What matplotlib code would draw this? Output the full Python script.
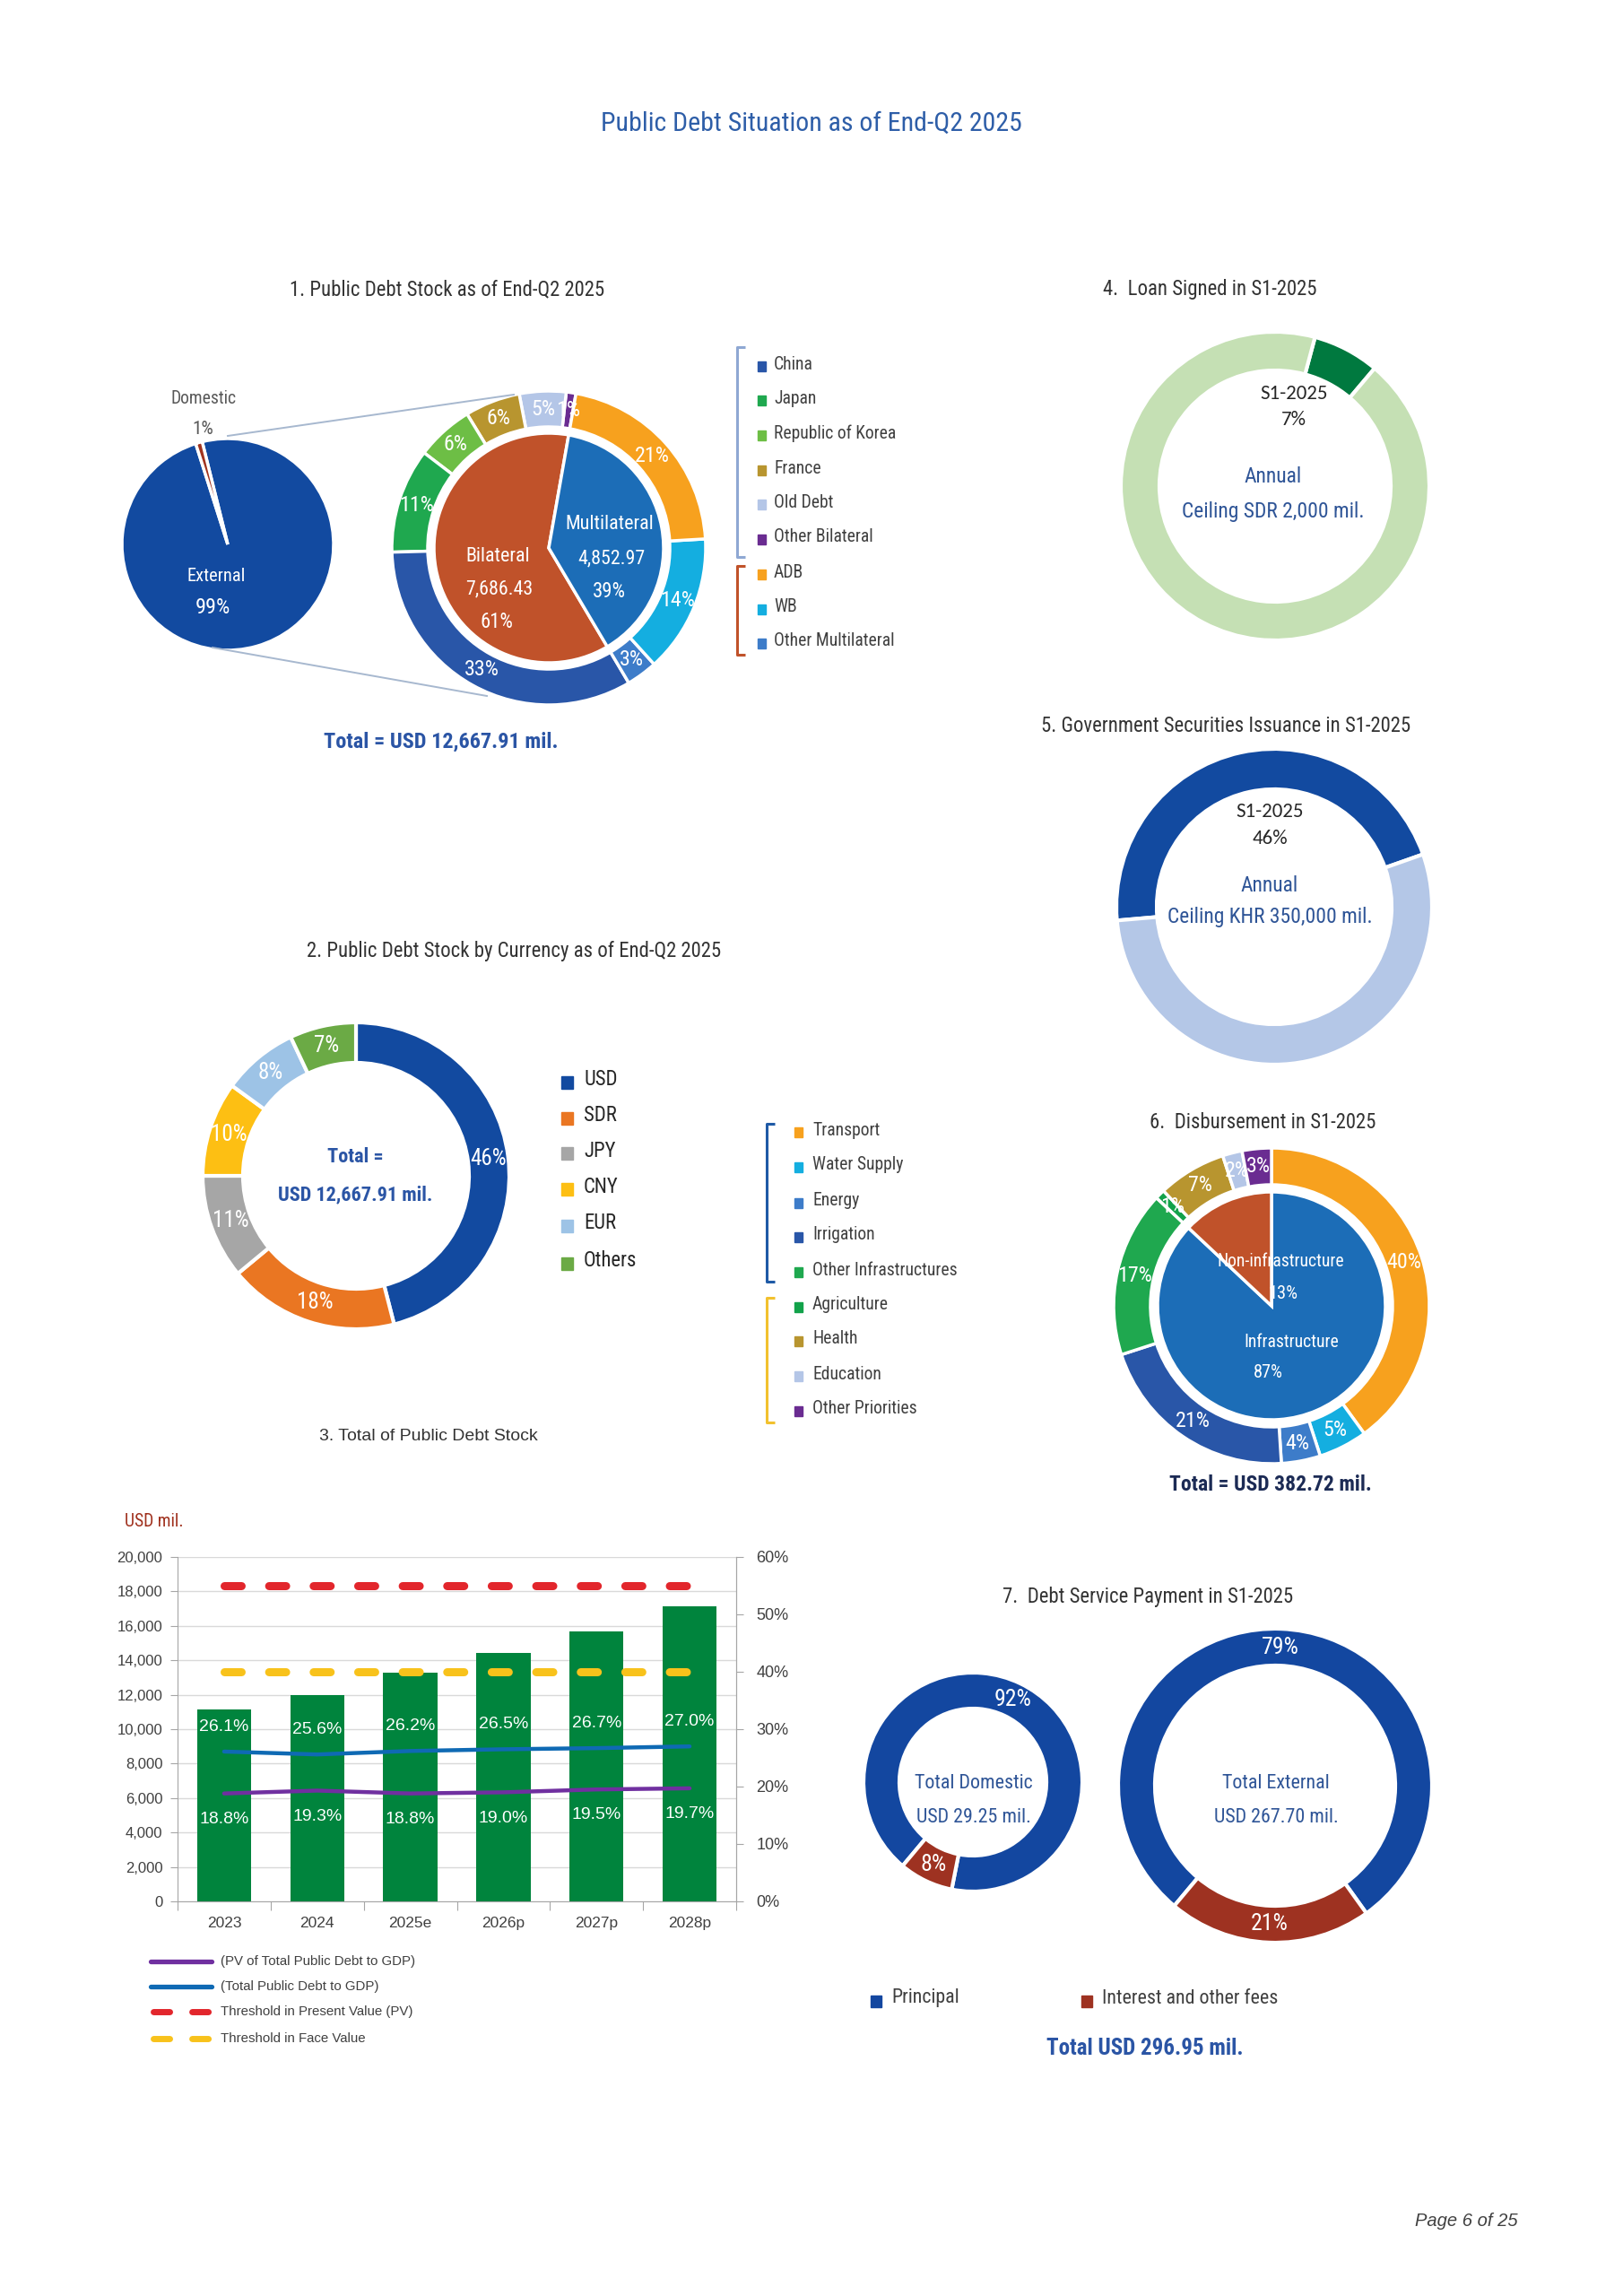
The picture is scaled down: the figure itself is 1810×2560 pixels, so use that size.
import matplotlib
matplotlib.use('Agg')
import matplotlib.pyplot as plt
from matplotlib import font_manager
from matplotlib.patches import Rectangle
import numpy as np

W, H = 1810, 2560

names = {f.name for f in font_manager.fontManager.ttflist}
NARROW, NS, NSB = 'Liberation Sans', 0.95, 0.88
for cand in ['Liberation Sans Narrow', 'Roboto Condensed', 'Arial Narrow']:
    if cand in names:
        NARROW, NS, NSB = cand, 1.13, 1.0
        break
REG = 'Liberation Sans'
CAL = 'Carlito' if 'Carlito' in names else 'Lato'

# ---------------- data ----------------
# 1. Public debt stock (USD mil.)
ext_dom_labels = ['External', 'Domestic']
ext_dom_values = [12539.40, 128.51]
inner1_labels = ['Bilateral', 'Multilateral']
inner1_values = [7686.43, 4852.97]
partner_labels = ['China', 'Japan', 'Republic of Korea', 'France', 'Old Debt',
                  'Other Bilateral', 'ADB', 'WB', 'Other Multilateral']
partner_pct = [33.1, 10.8, 5.9, 5.7, 4.8, 1.0, 21.3, 14.2, 3.2]
partner_colors = ['#2956A8', '#1FA84F', '#6DBE45', '#B8952F', '#B4C6E7',
                  '#6A2C91', '#F7A11E', '#14AEE0', '#3D7CC9']

# 2. By currency
currency_labels = ['USD', 'SDR', 'JPY', 'CNY', 'EUR', 'Others']
currency_pct = [46, 18, 11, 10, 8, 7]
currency_colors = ['#124AA0', '#EA7622', '#A6A6A6', '#FDBF13', '#9DC3E6', '#6BAA45']

# 3. Total public debt stock
years = ['2023', '2024', '2025e', '2026p', '2027p', '2028p']
debt_stock = [11150, 11980, 13260, 14420, 15660, 17140]
debt_to_gdp = [26.1, 25.6, 26.2, 26.5, 26.7, 27.0]
pv_to_gdp = [18.8, 19.3, 18.8, 19.0, 19.5, 19.7]
threshold_pv = [55, 55, 55, 55, 55, 55]
threshold_face = [40, 40, 40, 40, 40, 40]

# 4. Loan signed (share of annual ceiling)
loan_labels = ['S1-2025', 'Remaining']
loan_pct = [7, 93]
# 5. Government securities issuance
gsi_labels = ['S1-2025', 'Remaining']
gsi_pct = [46, 54]

# 6. Disbursement
sector_labels = ['Transport', 'Water Supply', 'Energy', 'Irrigation', 'Other Infrastructures',
                 'Agriculture', 'Health', 'Education', 'Other Priorities']
sector_pct = [40, 5, 4, 21, 17, 1, 7, 2, 3]
sector_colors = ['#F7A11E', '#14AEE0', '#3D7CC9', '#2956A8', '#1FA84F',
                 '#12A24A', '#B8952F', '#B4C6E7', '#6A2C91']
infra_labels = ['Infrastructure', 'Non-infrastructure']
infra_pct = [87, 13]

# 7. Debt service
service_labels = ['Principal', 'Interest and other fees']
domestic_service_pct = [92, 8]
external_service_pct = [79, 21]

# ---------------- figure ----------------
fig = plt.figure(figsize=(W / 100, H / 100), dpi=100)
fig.patch.set_facecolor('white')
ax = fig.add_axes([0, 0, 1, 1])

DARK = '#333333'
BLUE_T = '#2F5597'


def T(x, y, s, size, color=DARK, weight='normal', fam=None, ha='center', va='center',
      style='normal', narrow=True):
    if fam is None:
        f = NARROW if narrow else REG
        if narrow:
            sz = size * (NSB if weight == 'bold' else NS)
        else:
            sz = size
    else:
        f, sz = fam, size
    ax.text(x, H - y, s, fontsize=sz, color=color, fontweight=weight, family=f,
            ha=ha, va=va, style=style, zorder=10)


def donut(values, colors, cx, cy, r, width=None, start=90, cw=True, edge=3,
          pctd=None, pct_size=13.5, pct_color='white', show_pct=True):
    wp = dict(edgecolor='white', linewidth=edge)
    if width is not None:
        wp['width'] = width
    kw = {}
    if show_pct:
        kw = dict(autopct='%.0f%%', pctdistance=pctd,
                  textprops=dict(color=pct_color, fontsize=pct_size * NS, family=NARROW))
    ax.pie(values, colors=colors, radius=r, center=(cx, H - cy), startangle=start,
           counterclock=not cw, wedgeprops=wp, frame=True, labeldistance=None, **kw)


def square(x, y, c, w=11, h=12):
    ax.add_patch(Rectangle((x - w / 2, H - y - h / 2), w, h, color=c, zorder=5))


def bracket(x, y0, y1, c, tick=9):
    ax.plot([x + tick, x, x, x + tick], [H - y0, H - y0, H - y1, H - y1], color=c, lw=2.2,
            solid_capstyle='butt')


# Title
T(905, 138, 'Public Debt Situation as of End-Q2 2025', 19, color='#2E5EA8')

# ---- Chart 1 ----
T(499, 323, '1. Public Debt Stock as of End-Q2 2025', 14.5)
donut(ext_dom_values, ['#124AA0', '#A0331F'], 254, 607, 118, start=104, edge=2.5,
      show_pct=False)
T(227, 444, 'Domestic', 12.5, color='#595959')
T(226, 478, '1%', 13.5, color='#595959')
T(241, 643, 'External', 13, color='white')
T(237, 677, '99%', 15.5, color='white')
ax.plot([254, 573], [H - 486, H - 440], color='#A7B8CF', lw=1.4)
ax.plot([237, 543], [H - 722, H - 776], color='#A7B8CF', lw=1.4)

cx1, cy1 = 612, 611
donut(inner1_values, ['#C0522A', '#1C6DB7'], cx1, cy1, 128, start=80, cw=False,
      edge=2.5, show_pct=False)
ring_order = [5, 4, 3, 2, 1, 0, 8, 7, 6]
donut([partner_pct[i] for i in ring_order], [partner_colors[i] for i in ring_order],
      cx1, cy1, 175, width=40, start=80, cw=False, edge=2.5, pctd=0.885, pct_size=15.3)
T(555, 620, inner1_labels[0], 14, color='white')
T(557, 657, f'{inner1_values[0]:,.2f}', 14, color='white')
T(554, 694, f'{inner1_values[0] / sum(inner1_values) * 100:.0f}%', 14.5, color='white')
T(680, 585, inner1_labels[1], 14, color='white')
T(682, 623, f'{inner1_values[1]:,.2f}', 14, color='white')
T(679, 660, f'{inner1_values[1] / sum(inner1_values) * 100:.0f}%', 14.5, color='white')

leg1_y = [406, 444, 483, 522, 560, 599, 638, 677, 715]
for lab, c, y in zip(partner_labels, partner_colors, leg1_y):
    square(849, y + 2, c, 9, 11)
    T(863, y, lab, 12.5, ha='left', color='#404040')
bracket(822, 387, 621, '#8FA8D3')
bracket(822, 631, 730, '#C0522A')
T(492, 827, 'Total = USD 12,667.91 mil.', 17.5, color='#2B55A5', weight='bold')

# ---- Chart 4 ----
T(1349, 323, '4.  Loan Signed in S1-2025', 14.5)
donut(loan_pct, ['#00793F', '#C5E0B4'], 1422, 542, 172, width=43, start=75, show_pct=False)
T(1443, 439, loan_labels[0], 16.5, fam=CAL, color='#262626')
T(1443, 468, f'{loan_pct[0]}%', 16.5, fam=CAL, color='#262626')
T(1420, 532, 'Annual', 15, color=BLUE_T)
T(1420, 570, 'Ceiling SDR 2,000 mil.', 15, color=BLUE_T)

# ---- Chart 5 ----
T(1367, 810, '5. Government Securities Issuance in S1-2025', 14.5)
donut(gsi_pct, ['#124AA0', '#B4C7E7'], 1421, 1011, 176, width=45, start=185, show_pct=False)
T(1416, 905, gsi_labels[0], 16.5, fam=CAL, color='#262626')
T(1416, 935, f'{gsi_pct[0]}%', 16.5, fam=CAL, color='#262626')
T(1416, 987, 'Annual', 15, color=BLUE_T)
T(1416, 1023, 'Ceiling KHR 350,000 mil.', 15, color=BLUE_T)

# ---- Chart 2 ----
T(573, 1061, '2. Public Debt Stock by Currency as of End-Q2 2025', 14.5)
donut(currency_pct, currency_colors, 397, 1311, 171, width=45, start=90, pctd=0.87,
      pct_size=16)
T(396, 1290, 'Total =', 16, color='#2B55A5', weight='bold')
T(396, 1332, 'USD 12,667.91 mil.', 16, color='#2B55A5', weight='bold')
leg2_y = [1204, 1244, 1283, 1323, 1364, 1406]
for lab, c, y in zip(currency_labels, currency_colors, leg2_y):
    square(632, y + 3, c, 13, 14)
    T(651, y, lab, 14.5, ha='left', color='#262626')

# ---- Chart 6 ----
T(1408, 1251, '6.  Disbursement in S1-2025', 14.5)
cx6, cy6 = 1418, 1456
donut(infra_pct, ['#1C6DB7', '#C0522A'], cx6, cy6, 127, start=90, edge=2.5, show_pct=False)
donut(sector_pct, sector_colors, cx6, cy6, 176, width=41, start=90, edge=2.5,
      pctd=0.885, pct_size=15.3)
T(1428, 1407, infra_labels[1], 12.5, color='white')
T(1431, 1442, f'{infra_pct[1]}%', 13, color='white')
T(1440, 1497, infra_labels[0], 12.5, color='white')
T(1414, 1530, f'{infra_pct[0]}%', 13, color='white')
leg6_y = [1260, 1299, 1339, 1377, 1416, 1455, 1493, 1532, 1571]
for lab, c, y in zip(sector_labels, sector_colors, leg6_y):
    square(890, y + 2, c, 9, 11)
    T(906, y, lab, 12.5, ha='left', color='#404040')
bracket(855, 1253, 1429, '#1F5AA6')
bracket(855, 1447, 1586, '#F2C12E')
T(1417, 1656, 'Total = USD 382.72 mil.', 17, color='#1C2B55', weight='bold')

# ---- Chart 7 ----
T(1280, 1780, '7.  Debt Service Payment in S1-2025', 14.5)
svc_colors = ['#1347A0', '#9E3221']
donut(domestic_service_pct, svc_colors, 1085, 1987, 122, width=40, start=230,
      pctd=0.836, pct_size=16.5)
donut(external_service_pct, svc_colors, 1422, 1991, 175, width=41, start=230,
      pctd=0.883, pct_size=16.5)
T(1086, 1988, 'Total Domestic', 14, color=BLUE_T)
T(1086, 2026, 'USD 29.25 mil.', 14, color=BLUE_T)
T(1423, 1988, 'Total External', 14, color=BLUE_T)
T(1423, 2026, 'USD 267.70 mil.', 14, color=BLUE_T)
square(977, 2231, svc_colors[0], 12, 13)
T(994, 2228, service_labels[0], 14, ha='left', color='#404040')
square(1212, 2231, svc_colors[1], 12, 13)
T(1229, 2228, service_labels[1], 14, ha='left', color='#404040')
T(1277, 2284, 'Total USD 296.95 mil.', 18, color='#2B55A5', weight='bold')

# ---- Chart 3 legend & titles (overlay) ----
T(478, 1602, '3. Total of Public Debt Stock', 14, narrow=False)
T(172, 1696, 'USD mil.', 12.5, color='#A0311E')
leg3 = [(2187, '#7030A0', None, '(PV of Total Public Debt to GDP)'),
        (2215, '#0F6AB4', None, '(Total Public Debt to GDP)'),
        (2243, '#E2262C', (2.6, 3.6), 'Threshold in Present Value (PV)'),
        (2273, '#F8C21B', (2.6, 3.6), 'Threshold in Face Value')]
for y, c, d, lab in leg3:
    if d is None:
        ax.plot([168, 236], [H - y, H - y], color=c, lw=3.8, solid_capstyle='round')
    else:
        ax.plot([171, 236], [H - y, H - y], color=c, lw=5, dashes=d,
                dash_capstyle='round')
    T(246, y, lab, 10.8, ha='left', narrow=False, color='#404040')

# Footer
T(1693, 2477, 'Page 6 of 25', 14.5, ha='right', style='italic', narrow=False, color='#404040')

ax.set_xlim(0, W)
ax.set_ylim(0, H)
ax.set_aspect('equal')
ax.axis('off')

# ---- Chart 3 bars ----
bx = fig.add_axes([198 / W, (H - 2120) / H, 623 / W, 384 / H])
xs = np.arange(len(years))
bx.bar(xs, debt_stock, width=0.58, color='#00843D', zorder=2)
bx.set_xlim(-0.5, len(years) - 0.5)
bx.set_ylim(0, 20000)
yt = list(range(0, 20001, 2000))
bx.set_yticks(yt)
bx.set_yticklabels([f'{v:,}' for v in yt], family=REG)
bx.grid(axis='y', color='#D9D9D9', lw=1)
bx.set_axisbelow(True)
bx.set_xticks(np.arange(-0.5, len(years), 1))
bx.set_xticklabels([])
bx.set_xticks(xs, minor=True)
bx.set_xticklabels(years, minor=True, family=REG)
bx.tick_params(axis='x', which='major', length=7, color='#A6A6A6')
bx.tick_params(axis='x', which='minor', length=0, pad=12, labelsize=12.5, labelcolor='#404040')
bx.tick_params(axis='y', length=6, color='#A6A6A6', labelsize=12, labelcolor='#404040', pad=6)
for s in ['left', 'bottom', 'right']:
    bx.spines[s].set_color('#A6A6A6')
bx.spines['top'].set_visible(False)

b2 = bx.twinx()
b2.set_ylim(0, 60)
rt = list(range(0, 61, 10))
b2.set_yticks(rt)
b2.set_yticklabels([f'{v}%' for v in rt], family=REG)
b2.tick_params(axis='y', length=6, color='#A6A6A6', labelsize=13, labelcolor='#404040', pad=10)
for s in ['top', 'left', 'bottom']:
    b2.spines[s].set_visible(False)
b2.spines['right'].set_color('#A6A6A6')
b2.plot(xs, threshold_pv, color='#E2262C', lw=6.5, dashes=(2.1, 3.4), dash_capstyle='round')
b2.plot(xs, threshold_face, color='#F8C21B', lw=6.5, dashes=(2.1, 3.4), dash_capstyle='round')
b2.plot(xs, debt_to_gdp, color='#0F6AB4', lw=3.2, solid_capstyle='round')
b2.plot(xs, pv_to_gdp, color='#7030A0', lw=3.2, solid_capstyle='round')
for i in xs:
    b2.text(i, debt_to_gdp[i] + 4.3, f'{debt_to_gdp[i]:.1f}%', color='white', fontsize=14,
            family=REG, ha='center', va='center')
    b2.text(i, pv_to_gdp[i] - 4.5, f'{pv_to_gdp[i]:.1f}%', color='white', fontsize=14,
            family=REG, ha='center', va='center')

fig.savefig('out.png', dpi=100, facecolor='white')
